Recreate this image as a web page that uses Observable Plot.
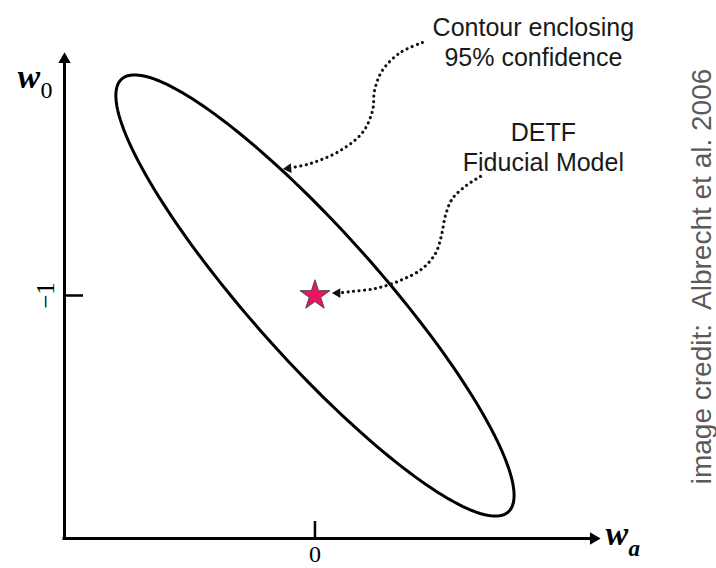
<!DOCTYPE html>
<html><head><meta charset="utf-8">
<script src="https://cdn.jsdelivr.net/npm/d3@7"></script>
<script src="https://cdn.jsdelivr.net/npm/@observablehq/plot@0.6"></script>
<style>html,body{margin:0;background:#fff}#chart svg{display:block}</style>
</head><body><div id="chart"></div>
<script>
// ---- data ----
const xTicks = [0];
const xTickLabels = ["0"];
const yTicks = [-1];
const yTickLabels = ["\u22121"];
const fiducialModel = [{wa: 0, w0: -1}];
// 95% confidence ellipse: centre, extents (1 sigma-like half-widths) and correlation
const ellipseCentre = {wa: 0, w0: -1};
const ellipseHalfExtent = {wa: 0.795, w0: 0.908};
const ellipseCorrelation = -0.906;
// dotted annotation pointers (wa, w0)
const contourPointer = [
  {wa: 0.429, w0: 0.041}, {wa: 0.341, w0: 0.000}, {wa: 0.269, w0: -0.074},
  {wa: 0.238, w0: -0.156}, {wa: 0.230, w0: -0.239}, {wa: 0.190, w0: -0.329},
  {wa: 0.102, w0: -0.403}, {wa: -0.018, w0: -0.457}, {wa: -0.090, w0: -0.473}
];
const contourPointerHead = [{wa: -0.106, w0: -0.477}];
const fiducialPointer = [
  {wa: 0.661, w0: -0.510}, {wa: 0.605, w0: -0.547}, {wa: 0.549, w0: -0.601},
  {wa: 0.521, w0: -0.671}, {wa: 0.505, w0: -0.753}, {wa: 0.481, w0: -0.827},
  {wa: 0.429, w0: -0.889}, {wa: 0.341, w0: -0.938}, {wa: 0.242, w0: -0.971},
  {wa: 0.142, w0: -0.984}, {wa: 0.110, w0: -0.988}
];
const fiducialPointerHead = [{wa: 0.090, w0: -0.990}];
const annotationTexts = ["Contour enclosing\n95% confidence", "DETF\nFiducial Model"];
const annotationAnchors = [{wa: 0.872, w0: 0.155}, {wa: 0.912, w0: -0.277}];
const xAxisEnd = [{wa: 1.14, w0: -2}];
const yAxisEnd = [{wa: -1, w0: 0}];
const credit = "image credit:  Albrecht et al. 2006";

// ---- derived tables ----
const ellipse = d3.range(0, 361, 2).map(deg => {
  const t = deg * Math.PI / 180;
  return {
    wa: ellipseCentre.wa + ellipseHalfExtent.wa * Math.cos(t),
    w0: ellipseCentre.w0 + ellipseHalfExtent.w0 *
      (ellipseCorrelation * Math.cos(t) + Math.sqrt(1 - ellipseCorrelation ** 2) * Math.sin(t))
  };
});
const xTickTable = xTicks.map((v, i) => ({v, label: xTickLabels[i]}));
const yTickTable = yTicks.map((v, i) => ({v, label: yTickLabels[i]}));
const annotations = annotationTexts.map((text, i) => ({...annotationAnchors[i], text}));

const serif = "'Liberation Serif', 'Times New Roman', serif";
const sans = "'Liberation Sans', Arial, Helvetica, sans-serif";

const chart = Plot.plot({
  width: 716, height: 568,
  marginLeft: 64, marginRight: 116, marginTop: 52, marginBottom: 30,
  x: {domain: [-1, 1.14], axis: null},
  y: {domain: [-2, 0], axis: null},
  style: {background: "#fff", overflow: "visible"},
  marks: [
    // confidence ellipse
    Plot.line(ellipse, {x: "wa", y: "w0", curve: "linear-closed", stroke: "#000", strokeWidth: 3}),
    // axes
    Plot.ruleX([-1], {y1: -2, y2: -0.03, stroke: "#000", strokeWidth: 3, strokeLinecap: "square"}),
    Plot.ruleY([-2], {x1: -1, x2: 1.11, stroke: "#000", strokeWidth: 3, strokeLinecap: "square"}),
    Plot.dot(yAxisEnd, {x: "wa", y: "w0", symbol: "triangle", r: 4.6, fill: "#000", dy: 7}),
    Plot.dot(xAxisEnd, {x: "wa", y: "w0", symbol: "triangle", r: 4.6, fill: "#000", rotate: 90, dx: -7}),
    // ticks
    Plot.ruleX(xTickTable, {x: "v", y1: -2, y2: -2 + 0.07, stroke: "#000", strokeWidth: 2.5}),
    Plot.ruleY(yTickTable, {y: "v", x1: -1, x2: -1 + 0.076, stroke: "#000", strokeWidth: 2.5}),
    Plot.text(xTickTable, {x: "v", y: -2, text: "label", dy: 16, fontSize: 24, fontFamily: serif, fill: "#000"}),
    Plot.text(yTickTable, {x: -1, y: "v", text: "label", rotate: -90, dx: -19, fontSize: 25, fontFamily: serif, fill: "#000"}),
    // axis names
    Plot.text(yAxisEnd, {x: "wa", y: "w0", text: () => "w", dx: -47, dy: 25, textAnchor: "start", fontSize: 34, fontWeight: "bold", fontStyle: "italic", fontFamily: serif, fill: "#000"}),
    Plot.text(yAxisEnd, {x: "wa", y: "w0", text: () => "0", dx: -24, dy: 38, textAnchor: "start", fontSize: 24, fontFamily: serif, fill: "#000"}),
    Plot.text(xAxisEnd, {x: "wa", y: "w0", text: () => "w", dx: 5, dy: -4, textAnchor: "start", fontSize: 34, fontWeight: "bold", fontStyle: "italic", fontFamily: serif, fill: "#000"}),
    Plot.text(xAxisEnd, {x: "wa", y: "w0", text: () => "a", dx: 28, dy: 10, textAnchor: "start", fontSize: 23, fontWeight: "bold", fontStyle: "italic", fontFamily: serif, fill: "#000"}),
    // dotted pointers
    Plot.line(contourPointer, {x: "wa", y: "w0", curve: "catmull-rom", stroke: "#111", strokeWidth: 3.1, strokeDasharray: "0.1 5.4", strokeLinecap: "round"}),
    Plot.dot(contourPointerHead, {x: "wa", y: "w0", symbol: "triangle", r: 3.6, fill: "#111", rotate: -95}),
    Plot.line(fiducialPointer, {x: "wa", y: "w0", curve: "catmull-rom", stroke: "#111", strokeWidth: 3.1, strokeDasharray: "0.1 5.4", strokeLinecap: "round"}),
    Plot.dot(fiducialPointerHead, {x: "wa", y: "w0", symbol: "triangle", r: 3.6, fill: "#111", rotate: -90}),
    // fiducial model star
    Plot.dot(fiducialModel, {x: "wa", y: "w0", symbol: "star", r: 9.4, fill: "#ea1462", stroke: "#4a4a4a", strokeWidth: 1}),
    // annotation labels
    Plot.text(annotations, {x: "wa", y: "w0", text: "text", lineAnchor: "top", lineHeight: 1.2, fontSize: 25, fontFamily: sans, fill: "#1a1a1a"}),
    // credit
    Plot.text([credit], {frameAnchor: "right", text: d => d, textAnchor: "middle", lineAnchor: "middle", rotate: -90, dx: 102, dy: -19, fontSize: 28, fontFamily: sans, fill: "#5a5a5a"})
  ]
});
document.getElementById("chart").appendChild(chart);
</script>
</body></html>
